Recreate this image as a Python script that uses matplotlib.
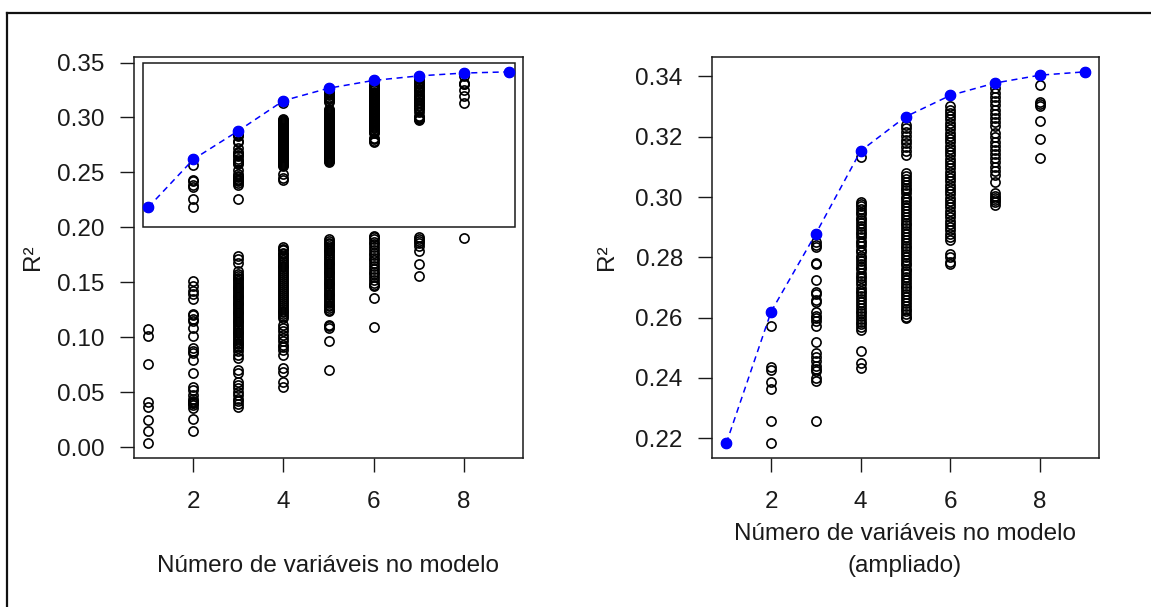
import matplotlib.pyplot as plt
from matplotlib.lines import Line2D
from matplotlib.patches import Rectangle

plt.rcParams["font.family"] = ["Liberation Sans", "DejaVu Sans"]

# R² of every candidate model, grouped by how many predictors it uses
n_vars = [1, 2, 3, 4, 5, 6, 7, 8, 9]

r2_1 = [0.2184, 0.1079, 0.1008, 0.0758, 0.0410, 0.0370, 0.0245, 0.0144, 0.0037]

r2_2 = [0.2620, 0.2572, 0.2435, 0.2425, 0.2388, 0.2365, 0.2259, 0.2184,
        0.1512, 0.1467, 0.1421, 0.1390, 0.1344, 0.1212, 0.1201, 0.1170,
        0.1146, 0.1085, 0.1008, 0.0901, 0.0877, 0.0855, 0.0795, 0.0672,
        0.0550, 0.0519, 0.0473, 0.0443, 0.0425, 0.0412, 0.0405, 0.0398,
        0.0382, 0.0357, 0.0260, 0.0144]

r2_3 = [0.2879, 0.2850, 0.2840, 0.2834, 0.2782, 0.2779, 0.2726, 0.2684,
        0.2679, 0.2657, 0.2651, 0.2618, 0.2607, 0.2599, 0.2590, 0.2573,
        0.2521, 0.2484, 0.2470, 0.2457, 0.2440, 0.2429, 0.2423, 0.2401,
        0.2390, 0.2257,
        0.1741, 0.1711, 0.1680, 0.1604, 0.1574, 0.1560, 0.1541, 0.1528,
        0.1510, 0.1497, 0.1476, 0.1462, 0.1445, 0.1430, 0.1411, 0.1398,
        0.1380, 0.1366, 0.1349, 0.1330, 0.1316, 0.1299, 0.1284, 0.1266,
        0.1250, 0.1233, 0.1219, 0.1201, 0.1186, 0.1169, 0.1152, 0.1136,
        0.1118, 0.1103, 0.1085, 0.1067, 0.1052, 0.1035, 0.1018, 0.1004,
        0.0986, 0.0969, 0.0951, 0.0936, 0.0918, 0.0899, 0.0872, 0.0840,
        0.0815, 0.0703, 0.0672, 0.0596, 0.0565, 0.0535, 0.0504, 0.0474,
        0.0443, 0.0420, 0.0397, 0.0367]

r2_4 = [0.3153, 0.3134,
        0.2985, 0.2978, 0.2969, 0.2961, 0.2950, 0.2943, 0.2932, 0.2924,
        0.2913, 0.2904, 0.2895, 0.2884, 0.2876, 0.2866, 0.2855, 0.2847,
        0.2836, 0.2826, 0.2818, 0.2806, 0.2797, 0.2789, 0.2778, 0.2768,
        0.2760, 0.2748, 0.2739, 0.2731, 0.2720, 0.2711, 0.2700, 0.2690,
        0.2682, 0.2671, 0.2662, 0.2651, 0.2643, 0.2633, 0.2622, 0.2614,
        0.2604, 0.2596, 0.2587, 0.2578, 0.2569, 0.2560,
        0.2490, 0.2451, 0.2434,
        0.1818, 0.1805, 0.1790, 0.1771, 0.1757, 0.1740, 0.1722, 0.1706,
        0.1689, 0.1671, 0.1652, 0.1636, 0.1617, 0.1600, 0.1583, 0.1566,
        0.1547, 0.1530, 0.1512, 0.1495, 0.1478, 0.1459, 0.1441, 0.1423,
        0.1405, 0.1388, 0.1370, 0.1352, 0.1333, 0.1316, 0.1298, 0.1280,
        0.1262, 0.1243, 0.1226, 0.1208, 0.1190, 0.1176,
        0.1115, 0.1085, 0.1054, 0.1023, 0.0993, 0.0962, 0.0932, 0.0909,
        0.0886, 0.0840, 0.0718, 0.0687, 0.0596, 0.0550]

r2_5 = [0.3266, 0.3240, 0.3228, 0.3215, 0.3203, 0.3190, 0.3178, 0.3165,
        0.3152, 0.3140,
        0.3079, 0.3070, 0.3061, 0.3050, 0.3041, 0.3031, 0.3022, 0.3012,
        0.3001, 0.2993, 0.2982, 0.2974, 0.2963, 0.2955, 0.2944, 0.2935,
        0.2925, 0.2915, 0.2906, 0.2896, 0.2887, 0.2877, 0.2868, 0.2858,
        0.2849, 0.2839, 0.2830, 0.2820, 0.2811, 0.2801, 0.2792, 0.2782,
        0.2773, 0.2763, 0.2754, 0.2744, 0.2735, 0.2725, 0.2716, 0.2706,
        0.2697, 0.2687, 0.2678, 0.2668, 0.2659, 0.2649, 0.2640, 0.2630,
        0.2621, 0.2611, 0.2603, 0.2598,
        0.1894, 0.1880, 0.1862, 0.1848, 0.1830, 0.1814, 0.1797, 0.1781,
        0.1763, 0.1748, 0.1730, 0.1713, 0.1697, 0.1680, 0.1664, 0.1647,
        0.1630, 0.1614, 0.1597, 0.1581, 0.1564, 0.1547, 0.1531, 0.1514,
        0.1498, 0.1481, 0.1464, 0.1448, 0.1431, 0.1415, 0.1398, 0.1381,
        0.1365, 0.1348, 0.1332, 0.1315, 0.1298, 0.1282, 0.1265, 0.1250,
        0.1237, 0.1115, 0.1100, 0.1085, 0.0969, 0.0703]

r2_6 = [0.3337,
        0.3301, 0.3290, 0.3279, 0.3268, 0.3258, 0.3246, 0.3236, 0.3225,
        0.3213, 0.3203, 0.3192, 0.3181, 0.3170, 0.3160, 0.3149, 0.3138,
        0.3127, 0.3117, 0.3106, 0.3095, 0.3084, 0.3073, 0.3062, 0.3052,
        0.3041, 0.3030, 0.3019, 0.3009, 0.2998, 0.2987, 0.2976, 0.2966,
        0.2955, 0.2944, 0.2933, 0.2922, 0.2911, 0.2901, 0.2890, 0.2879,
        0.2868, 0.2857, 0.2812, 0.2800, 0.2785, 0.2778,
        0.1925, 0.1912, 0.1893, 0.1870, 0.1845, 0.1822, 0.1795, 0.1770,
        0.1748, 0.1722, 0.1700, 0.1675, 0.1650, 0.1622, 0.1598, 0.1572,
        0.1548, 0.1522, 0.1498, 0.1480, 0.1467, 0.1359, 0.1091]

r2_7 = [0.3378, 0.3362, 0.3346, 0.3332, 0.3318, 0.3304, 0.3290, 0.3276,
        0.3262, 0.3248, 0.3234, 0.3212, 0.3198, 0.3184, 0.3170, 0.3157,
        0.3143, 0.3129, 0.3115, 0.3101, 0.3087, 0.3073, 0.3051,
        0.3013, 0.3005, 0.2998, 0.2990, 0.2982, 0.2973,
        0.1910, 0.1895, 0.1880, 0.1860, 0.1830, 0.1787, 0.1665, 0.1558]

r2_8 = [0.3404, 0.3373, 0.3314, 0.3308, 0.3303, 0.3251, 0.3192, 0.3129, 0.1904]

r2_9 = [0.3415]

r2_by_size = [r2_1, r2_2, r2_3, r2_4, r2_5, r2_6, r2_7, r2_8, r2_9]
best_r2 = [max(v) for v in r2_by_size]

left_yticks = [0.00, 0.05, 0.10, 0.15, 0.20, 0.25, 0.30, 0.35]
right_yticks = [0.22, 0.24, 0.26, 0.28, 0.30, 0.32, 0.34]
xticks = [2, 4, 6, 8]

INK = "#1a1a1a"
FS = 17.5


def padded(lo, hi, frac=0.04):
    span = hi - lo
    return lo - frac * span, hi + frac * span


def draw_panel(ax, ylim, yticks):
    for k, vals in zip(n_vars, r2_by_size):
        ax.plot([k] * len(vals), vals, "o", ls="none", mfc="none",
                mec="black", ms=6.6, mew=1.2)
    ax.plot(n_vars, best_r2, color="blue", lw=1.1, ls=(0, (4, 3)))
    ax.plot(n_vars, best_r2, "o", ls="none", color="blue", ms=7.4)

    ax.set_xlim(padded(min(n_vars), max(n_vars)))
    ax.set_ylim(ylim)
    ax.set_xticks(xticks)
    ax.set_xticklabels([str(t) for t in xticks])
    ax.set_yticks(yticks)
    ax.set_yticklabels([f"{t:.2f}" for t in yticks])
    ax.tick_params(axis="both", direction="out", length=10, width=1.0,
                   color=INK, labelcolor=INK, labelsize=FS)
    ax.tick_params(axis="x", pad=14)
    ax.tick_params(axis="y", pad=11)
    for s in ax.spines.values():
        s.set_linewidth(1.1)
        s.set_color(INK)


fig = plt.figure(figsize=(11.51, 6.07), dpi=100)

ax_all = fig.add_axes([134 / 1151, 149 / 607, 389 / 1151, 401 / 607])
all_vals = [v for vals in r2_by_size for v in vals]
draw_panel(ax_all, padded(min(all_vals), max(all_vals)), left_yticks)
# box marking the region shown enlarged on the right
ax_all.add_patch(Rectangle((0.87, 0.20), 9.15 - 0.87, 0.15, fill=False,
                           ec=INK, lw=1.1))

ax_zoom = fig.add_axes([712 / 1151, 149 / 607, 387 / 1151, 401 / 607])
draw_panel(ax_zoom, padded(min(best_r2), max(best_r2)), right_yticks)

fig.text(33 / 1151, 350 / 607, "R²", rotation=90, ha="center", va="center",
         fontsize=FS, color=INK)
fig.text(607 / 1151, 350 / 607, "R²", rotation=90, ha="center", va="center",
         fontsize=FS, color=INK)
fig.text(328 / 1151, 41 / 607, "Número de variáveis no modelo",
         ha="center", va="center", fontsize=FS, color=INK)
fig.text(905 / 1151, 73 / 607, "Número de variáveis no modelo",
         ha="center", va="center", fontsize=FS, color=INK)
fig.text(905 / 1151, 41 / 607, "(ampliado)",
         ha="center", va="center", fontsize=FS, color=INK)

# frame on the left and top edges
fig.add_artist(Line2D([7.5 / 1151, 7.5 / 1151], [0, 594 / 607],
                      transform=fig.transFigure, color="#111111", lw=1.6))
fig.add_artist(Line2D([7 / 1151, 1], [594 / 607, 594 / 607],
                      transform=fig.transFigure, color="#111111", lw=1.6))

fig.savefig("out.png", dpi=100)
